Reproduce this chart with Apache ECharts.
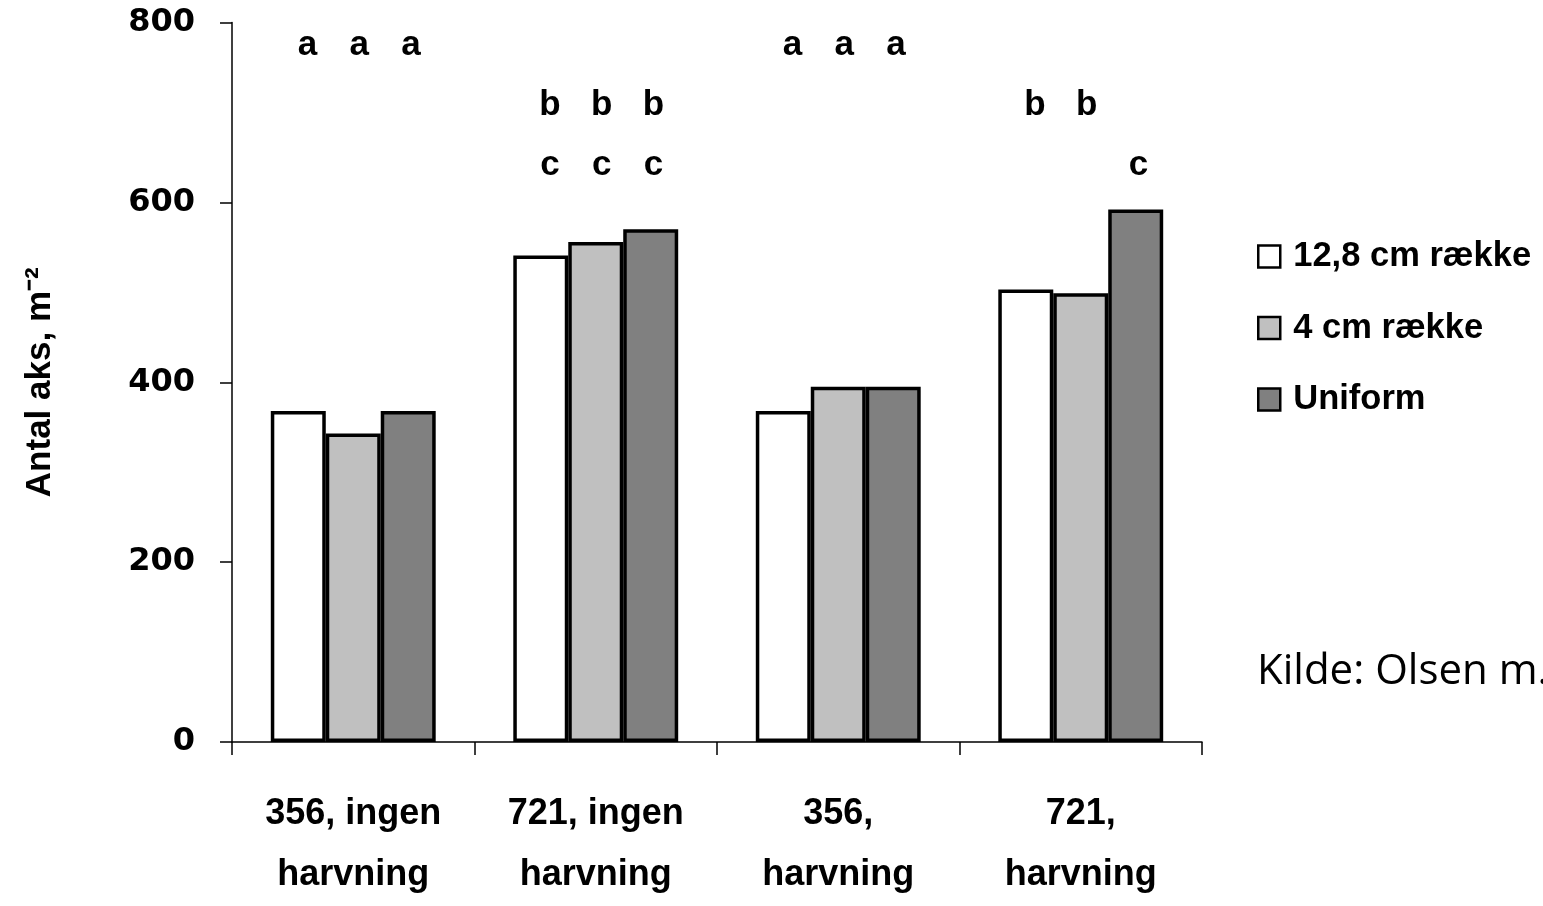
<!DOCTYPE html>
<html>
<head>
<meta charset="utf-8">
<script src="https://cdn.jsdelivr.net/npm/echarts@6/dist/echarts.min.js"></script>
<style>
html,body{margin:0;padding:0;background:#fff;}
#chart{width:1543px;height:906px;}
</style>
</head>
<body>
<div id="chart"></div>
<script>
const categories = ['356, ingen\nharvning', '721, ingen\nharvning', '356,\nharvning', '721,\nharvning'];
const seriesNames = ['12,8 cm række', '4 cm række', 'Uniform'];
const values128 = [368, 541, 368, 503];
const values4 = [343, 556, 395, 499];
const valuesUniform = [368, 570, 395, 592];
// significance letters per category, rows: [row1, row2, row3]
const letters128 = [['a', '', ''], ['', 'b', 'c'], ['a', '', ''], ['', 'b', '']];
const letters4 = [['a', '', ''], ['', 'b', 'c'], ['a', '', ''], ['', 'b', '']];
const lettersUniform = [['a', '', ''], ['', 'b', 'c'], ['a', '', ''], ['', '', 'c']];
const yTicks = [0, 200, 400, 600, 800];
const sourceText = 'Kilde: Olsen m.';

const colors = ['#ffffff', '#c0c0c0', '#808080'];
const allValues = [values128, values4, valuesUniform];
const allLetters = [letters128, letters4, lettersUniform];
const yMax = yTicks[yTicks.length - 1];

const chart = echarts.init(document.getElementById('chart'));

const barSeries = seriesNames.map((name, i) => ({
  name: name,
  type: 'bar',
  xAxisIndex: 0,
  data: allValues[i],
  barGap: '0%',
  barCategoryGap: '32%',
  itemStyle: { color: colors[i], borderColor: '#000', borderWidth: 3.5 },
  emphasis: { disabled: true }
}));

const letterSeries = seriesNames.map((name, i) => ({
  name: 'letters' + i,
  type: 'bar',
  xAxisIndex: 1,
  silent: true,
  data: categories.map(() => yMax),
  barGap: '0%',
  barCategoryGap: '36%',
  itemStyle: { color: 'rgba(0,0,0,0)' },
  z: 5,
  label: {
    show: true,
    position: 'insideTop',
    distance: 5,
    offset: [6, -12],
    formatter: (p) => allLetters[i][p.dataIndex].map(s => s === '' ? '\u00a0' : s).join('\n'),
    fontFamily: 'Liberation Sans',
    fontWeight: 'bold',
    fontSize: 35,
    lineHeight: 60,
    color: '#000'
  },
  emphasis: { disabled: true }
}));

chart.setOption({
  animation: false,
  backgroundColor: '#fff',
  grid: { left: 232, right: 341, top: 22.5, bottom: 156, containLabel: false },
  legend: {
    data: seriesNames,
    orient: 'vertical',
    left: 1252,
    top: 234,
    itemWidth: 22,
    itemHeight: 22,
    itemGap: 36.5,
    icon: 'rect',
    itemStyle: { borderColor: '#000', borderWidth: 2.5 },
    textStyle: {
      fontFamily: 'Liberation Sans',
      fontWeight: 'bold',
      fontSize: 34.5,
      lineHeight: 35,
      color: '#000',
      padding: [0, 0, 0, 8]
    }
  },
  xAxis: [
    {
      type: 'category',
      data: categories,
      axisLine: { lineStyle: { color: '#000', width: 1.5 } },
      axisTick: { show: true, length: 13, interval: 0, lineStyle: { color: '#000', width: 1.5 } },
      axisLabel: {
        interval: 0,
        margin: 42,
        fontFamily: 'Liberation Sans',
        fontWeight: 'bold',
        fontSize: 36,
        lineHeight: 61,
        color: '#000'
      }
    },
    {
      type: 'category',
      data: categories,
      show: false
    }
  ],
  yAxis: {
    type: 'value',
    min: 0,
    max: yMax,
    interval: 200,
    splitLine: { show: false },
    axisLine: { show: true, lineStyle: { color: '#000', width: 1.5 } },
    axisTick: { show: true, length: 12, lineStyle: { color: '#000', width: 1.5 } },
    axisLabel: {
      margin: 37,
      fontFamily: 'DejaVu Sans',
      fontWeight: 'bold',
      fontSize: 32,
      color: '#000'
    },
    name: 'Antal aks, m\u207B\u00B2',
    nameLocation: 'middle',
    nameGap: 174,
    nameRotate: 90,
    nameTextStyle: {
      fontFamily: 'Liberation Sans',
      fontWeight: 'bold',
      fontSize: 35,
      color: '#000'
    }
  },
  graphic: [{
    type: 'text',
    left: 1257,
    top: 651,
    style: {
      text: sourceText,
      fontFamily: 'Open Sans',
      fontSize: 42,
      fill: '#000'
    }
  }],
  series: barSeries.concat(letterSeries)
});
</script>
</body>
</html>
